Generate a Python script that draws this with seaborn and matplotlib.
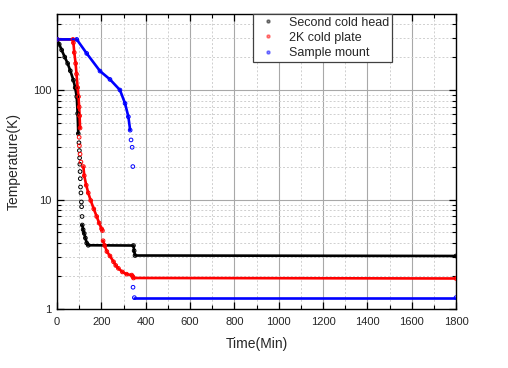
import matplotlib
matplotlib.use("Agg")
import matplotlib.pyplot as plt
import numpy as np
import pandas as pd
import seaborn as sns
from matplotlib.lines import Line2D
from matplotlib.ticker import FixedLocator, NullFormatter, FixedFormatter

# ---------------- data ----------------
series_names = ["Second cold head", "2K cold plate", "Sample mount"]
series_colors = ["#000000", "#ff0000", "#0000ff"]

# Second cold head  (seg: points with same id are a dense run; -1 = isolated points)
head_time = [0, 10, 21, 35, 48, 60, 74, 82, 89, 93, 96,
             99, 101, 102, 103, 104, 105, 106, 108, 110, 111, 113,
             114, 118, 123, 128, 134, 141, 345, 348, 352, 1800]
head_temp = [290, 262, 232, 200, 175, 150, 123, 105, 87, 61, 40,
             33, 28, 24, 21, 18, 15.5, 13, 11.5, 9.5, 8.6, 7.0,
             5.85, 5.3, 4.9, 4.45, 4.0, 3.82, 3.8, 3.4, 3.08, 3.05]
head_seg = [0] * 11 + [-1] * 11 + [1] * 10

# 2K cold plate
plate_time = [0, 72, 74, 78, 84, 88, 93, 97, 100, 102, 104,
              100, 101, 104, 108,
              119, 123, 132, 141, 152, 166, 179, 190, 201, 205,
              208, 215, 225, 239, 255, 265, 277, 295, 314, 337, 342, 345, 1800]
plate_temp = [290, 290, 270, 220, 175, 140, 105, 87, 70, 58, 45,
              37, 31, 26, 22,
              20, 16.5, 13.5, 11.5, 9.8, 8.2, 7.0, 6.1, 5.4, 5.2,
              4.2, 3.8, 3.35, 3.05, 2.7, 2.5, 2.35, 2.18, 2.08, 2.04, 1.98, 1.92, 1.9]
plate_seg = [0] * 11 + [-1] * 4 + [1] * 10 + [2] * 13

# Sample mount
mount_time = [0, 89, 134, 194, 239, 284, 307, 322, 330,
              334, 339, 342, 343,
              349, 1800]
mount_temp = [290, 290, 216, 149, 125, 100, 75.5, 57, 43,
              35, 30, 20, 1.58,
              1.27, 1.27]
mount_seg = [0] * 9 + [-1] * 4 + [1] * 2

x_ticks = [0, 200, 400, 600, 800, 1000, 1200, 1400, 1600, 1800]
y_ticks = [1, 10, 100]
y_tick_labels = ["1", "10", "100"]

# ---------------- build table ----------------
frames = []
for name, t, T, s in [(series_names[0], head_time, head_temp, head_seg),
                      (series_names[1], plate_time, plate_temp, plate_seg),
                      (series_names[2], mount_time, mount_temp, mount_seg)]:
    frames.append(pd.DataFrame({"Time": t, "Temp": T, "seg": s, "series": name}))
df = pd.concat(frames, ignore_index=True)
df["unit"] = df["series"] + "_" + df["seg"].astype(str)
palette = dict(zip(series_names, series_colors))

# ---------------- plot ----------------
sns.set_style("white")
plt.rcParams["font.family"] = ["Liberation Sans", "DejaVu Sans"]

fig = plt.figure(figsize=(5.08, 3.68), dpi=100)
ax = fig.add_axes([57 / 508, 1 - 309 / 368, 399 / 508, (309 - 13.5) / 368])
ax.set_yscale("log")

runs = df[df["seg"] >= 0]
sns.lineplot(data=runs, x="Time", y="Temp", hue="series", units="unit",
             estimator=None, sort=False, palette=palette, lw=1.9,
             legend=False, ax=ax, zorder=3)
for name in series_names:
    sub = df[df["series"] == name]
    sns.scatterplot(data=sub, x="Time", y="Temp", marker="o", s=7,
                    facecolor="none", edgecolor=palette[name], linewidth=0.7,
                    legend=False, ax=ax, zorder=4)

ax.set_xlim(0, 1800)
ax.set_ylim(1, 500)

# ticks
ax.xaxis.set_major_locator(FixedLocator(x_ticks))
ax.xaxis.set_minor_locator(FixedLocator(list(range(100, 1800, 200))))
ax.set_xticklabels([str(v) for v in x_ticks])
ax.yaxis.set_major_locator(FixedLocator(y_ticks))
ax.yaxis.set_major_formatter(FixedFormatter(y_tick_labels))
minor_y = [m * d for d in (1, 10, 100) for m in range(2, 10) if m * d < 500]
ax.yaxis.set_minor_locator(FixedLocator(minor_y))
ax.yaxis.set_minor_formatter(NullFormatter())

ax.tick_params(which="both", direction="in", top=True, right=True,
               bottom=True, left=True, color="black")
ax.tick_params(which="major", length=5, width=0.9, labelsize=8, pad=4)
ax.tick_params(which="minor", length=3, width=0.8)
ax.tick_params(axis="x", which="major", pad=6)

ax.grid(which="major", color="#a8a8a8", lw=0.8, ls="-", zorder=0)
ax.grid(which="minor", color="#cfcfcf", lw=0.7, ls=(0, (2, 2)), zorder=0)
ax.set_axisbelow(True)

for sp in ax.spines.values():
    sp.set_color("black")
    sp.set_linewidth(1.0)

ax.set_xlabel("Time(Min)", fontsize=10, labelpad=7)
ax.set_ylabel("Temperature(K)", fontsize=10, labelpad=9)

handles = [Line2D([], [], ls="", marker="o", ms=2.2, mfc=c, mec=c, alpha=0.45)
           for c in series_colors]
leg = ax.legend(handles, series_names, loc="upper left",
                bbox_to_anchor=(0.49, 1.0), borderaxespad=0, fontsize=9,
                frameon=True, fancybox=False, framealpha=1, edgecolor="#404040",
                handlelength=1.9, handletextpad=0.75, borderpad=0.25,
                labelspacing=0.25)
leg.get_frame().set_linewidth(0.9)

fig.savefig("out.png", dpi=100, facecolor="white")
